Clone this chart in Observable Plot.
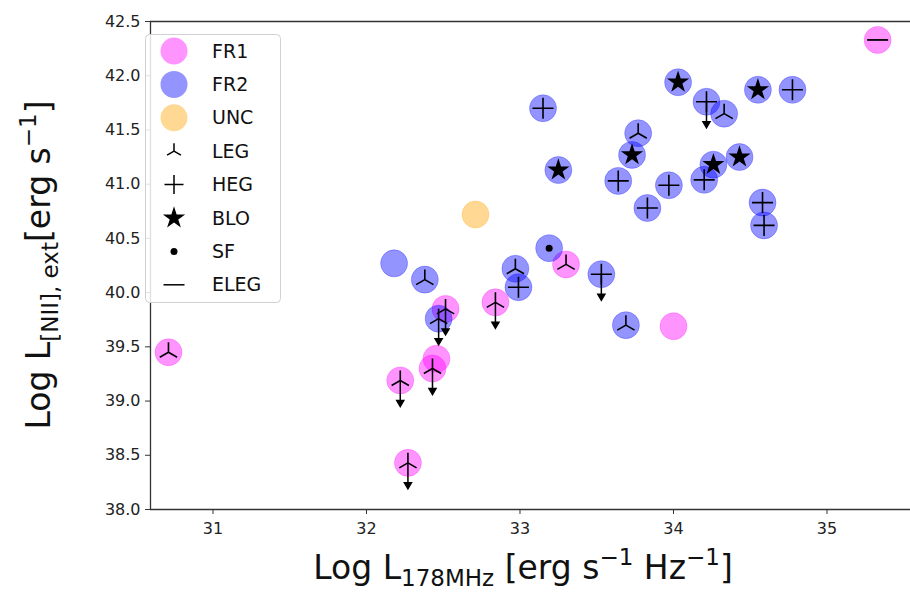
<!DOCTYPE html>
<html><head><meta charset="utf-8">
<script src="https://cdn.jsdelivr.net/npm/d3@7"></script>
<script src="https://cdn.jsdelivr.net/npm/@observablehq/plot@0.6"></script>
<style>
body{margin:0;background:#fff;}
svg{font-family:"DejaVu Sans",sans-serif;}
</style>
</head><body><div id="chart"></div>
<script>
// ---- data ----
const logL178 = [30.71, 32.22, 32.456, 32.43, 32.27, 32.515, 32.84, 33.30, 34.00, 35.33,
  32.71,
  32.18, 32.38, 32.47, 32.97, 32.99, 33.19, 33.53, 33.69, 33.15, 34.03, 34.215, 34.33, 34.55, 34.775,
  33.77, 33.73, 33.25, 33.64, 33.97, 33.83, 34.26, 34.20, 34.43, 34.58, 34.59];
const logLNII = [39.45, 39.19, 39.39, 39.30, 38.43, 39.85, 39.91, 40.26, 39.69, 42.33,
  40.72,
  40.27, 40.12, 39.76, 40.22, 40.05, 40.41, 40.17, 39.70, 41.70, 41.94, 41.76, 41.65, 41.87, 41.87,
  41.47, 41.27, 41.13, 41.03, 40.99, 40.78, 41.18, 41.04, 41.25, 40.83, 40.62];
const morphology = ["FR1","FR1","FR1","FR1","FR1","FR1","FR1","FR1","FR1","FR1",
  "UNC",
  "FR2","FR2","FR2","FR2","FR2","FR2","FR2","FR2","FR2","FR2","FR2","FR2","FR2","FR2",
  "FR2","FR2","FR2","FR2","FR2","FR2","FR2","FR2","FR2","FR2","FR2"];
const excitation = ["LEG","LEG","","LEG","LEG","LEG","LEG","LEG","","ELEG",
  "",
  "","LEG","LEG","LEG","HEG","SF","HEG","LEG","HEG","BLO","HEG","LEG","BLO","HEG",
  "LEG","BLO","BLO","HEG","HEG","HEG","BLO","HEG","BLO","HEG","HEG"];
const upperLimit = [false,true,false,true,true,true,true,false,false,false,
  false,
  false,false,true,false,false,false,true,false,false,false,true,false,false,false,
  false,false,false,false,false,false,false,false,false,false,false];

const xTicks = [31, 32, 33, 34, 35];
const yTicks = [38.0, 38.5, 39.0, 39.5, 40.0, 40.5, 41.0, 41.5, 42.0, 42.5];
const morphClasses = ["FR1", "FR2", "UNC"];
const morphColors = ["#ff00ff", "#0000ff", "#ffa500"];
const excClasses = ["LEG", "HEG", "BLO", "SF", "ELEG"];

const rows = logL178.map((x, i) => ({x, y: logLNII[i], m: morphology[i], e: excitation[i], lim: upperLimit[i]}));

// ---- custom stroked symbols (matplotlib-like markers) ----
const rad = s => Math.sqrt(s / Math.PI);
const triUp = {draw(c, s) { const r = rad(s);
  c.moveTo(0, 0); c.lineTo(0, -r);
  c.moveTo(0, 0); c.lineTo(-0.866 * r, 0.5 * r);
  c.moveTo(0, 0); c.lineTo(0.866 * r, 0.5 * r); }};
const plusSym = {draw(c, s) { const r = rad(s);
  c.moveTo(-r, 0); c.lineTo(r, 0); c.moveTo(0, -r); c.lineTo(0, r); }};
const hline = {draw(c, s) { const r = rad(s); c.moveTo(-r, 0); c.lineTo(r, 0); }};
const arrowDown = {draw(c, s) { const L = rad(s);
  c.moveTo(0, 0); c.lineTo(0, L - 5);
  c.moveTo(-3.5, L - 6); c.lineTo(3.5, L - 6); c.lineTo(0, L); c.closePath(); }};

const xDomain = [30.593, 35.544];
const yDomain = [38.0, 42.5];

const chart = Plot.plot({
  width: 910, height: 594,
  marginLeft: 150, marginRight: 0, marginTop: 21, marginBottom: 85,
  style: {fontFamily: "DejaVu Sans", fontSize: "16px", color: "#222", background: "#fff"},
  x: {domain: xDomain, label: null},
  y: {domain: yDomain, label: null},
  color: {domain: morphClasses, range: morphColors},
  marks: [
    Plot.axisX({ticks: xTicks, tickFormat: "d", tickSize: 5, tickPadding: 8, stroke: "#333", fill: "#222", fontSize: 16}),
    Plot.axisY({ticks: yTicks, tickFormat: ".1f", tickSize: 5, tickPadding: 5, stroke: "#333", fill: "#222", fontSize: 16}),
    Plot.ruleY([yDomain[0], yDomain[1]], {stroke: "#333", strokeWidth: 1.3}),
    Plot.ruleX([xDomain[0]], {stroke: "#333", strokeWidth: 1.3}),
    Plot.dot(rows, {x: "x", y: "y", r: 13.5, fill: "m", fillOpacity: 0.42, stroke: "m", strokeOpacity: 0.25, strokeWidth: 1}),
    Plot.dot(rows.filter(d => d.lim), {x: "x", y: "y", r: 26, symbol: arrowDown, stroke: "black", fill: "black", strokeWidth: 1.5}),
    Plot.dot(rows.filter(d => d.e === "LEG"), {x: "x", y: "y", r: 10, symbol: triUp, stroke: "black", fill: "none", strokeWidth: 1.6}),
    Plot.dot(rows.filter(d => d.e === "HEG"), {x: "x", y: "y", r: 10.5, symbol: plusSym, stroke: "black", fill: "none", strokeWidth: 1.6}),
    Plot.dot(rows.filter(d => d.e === "ELEG"), {x: "x", y: "y", r: 10.5, symbol: hline, stroke: "black", fill: "none", strokeWidth: 1.8}),
    Plot.dot(rows.filter(d => d.e === "BLO"), {x: "x", y: "y", r: 7, symbol: "star", fill: "black", stroke: "none"}),
    Plot.dot(rows.filter(d => d.e === "SF"), {x: "x", y: "y", r: 3.5, fill: "black", stroke: "none"})
  ]
});
document.getElementById("chart").appendChild(chart);

// ---- axis titles with sub/superscripts ----
const svg = d3.select(chart);
const big = 33, small = 23;
const yl = svg.append("text").attr("transform", "translate(50,265) rotate(-90)")
  .attr("text-anchor", "middle").attr("font-size", big).attr("fill", "#111");
yl.append("tspan").text("Log L");
yl.append("tspan").attr("font-size", small).attr("dy", 8).text("[NII], ext");
yl.append("tspan").attr("dy", -8).text("[erg s");
yl.append("tspan").attr("font-size", small).attr("dy", -14).text("−1");
yl.append("tspan").attr("dy", 14).text("]");

const xl = svg.append("text").attr("x", 523).attr("y", 579)
  .attr("text-anchor", "middle").attr("font-size", big).attr("fill", "#111");
xl.append("tspan").text("Log L");
xl.append("tspan").attr("font-size", small).attr("dy", 7).text("178MHz");
xl.append("tspan").attr("dy", -7).text(" [erg s");
xl.append("tspan").attr("font-size", small).attr("dy", -14).text("−1");
xl.append("tspan").attr("dy", 14).text(" Hz");
xl.append("tspan").attr("font-size", small).attr("dy", -14).text("−1");
xl.append("tspan").attr("dy", 14).text("]");

// ---- legend ----
const lg = svg.append("g");
lg.append("rect").attr("x", 145.5).attr("y", 34.5).attr("width", 135).attr("height", 268)
  .attr("rx", 4).attr("fill", "white").attr("fill-opacity", 0.85).attr("stroke", "#d0d0d0");
const rowY = i => 51 + i * 33.4;
const lx = 174, tx = 212;
morphClasses.forEach((c, i) => {
  lg.append("circle").attr("cx", lx).attr("cy", rowY(i)).attr("r", 13.5)
    .attr("fill", morphColors[i]).attr("fill-opacity", 0.42);
});
const legSyms = [triUp, plusSym, d3.symbolStar, d3.symbolCircle, hline];
const legR = [8, 9.5, 7, 3.5, 10.5];
excClasses.forEach((c, j) => {
  const i = j + 3;
  const s = legSyms[j], r = legR[j];
  const filled = (c === "BLO" || c === "SF");
  lg.append("path").attr("transform", `translate(${lx},${rowY(i)})`)
    .attr("d", d3.symbol(s, Math.PI * r * r)())
    .attr("fill", filled ? "black" : "none").attr("stroke", filled ? "none" : "black").attr("stroke-width", 1.5);
});
[...morphClasses, ...excClasses].forEach((c, i) => {
  lg.append("text").attr("x", tx).attr("y", rowY(i)).attr("dy", "0.35em")
    .attr("text-anchor", "start").attr("font-size", 19).attr("fill", "#111").text(c);
});
</script>
</body></html>
